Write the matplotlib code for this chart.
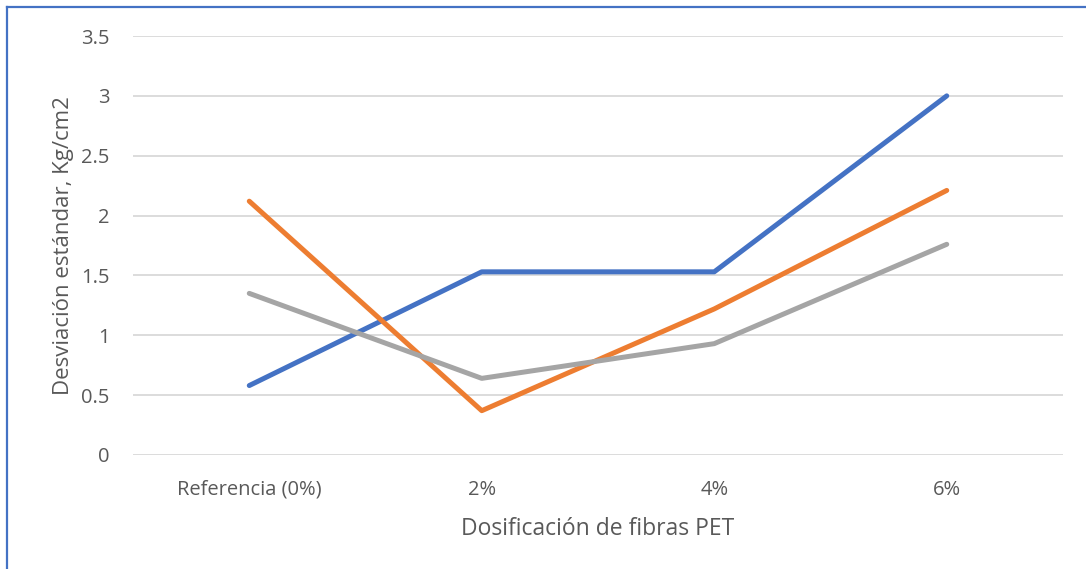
import matplotlib
matplotlib.use("Agg")
import matplotlib.pyplot as plt
from matplotlib.lines import Line2D

# Standard deviation of compressive strength by PET fibre dosage
categories = ["Referencia (0%)", "2%", "4%", "6%"]
serie_1 = [0.58, 1.53, 1.53, 3.00]
serie_2 = [2.12, 0.37, 1.22, 2.21]
serie_3 = [1.35, 0.64, 0.93, 1.76]
y_ticks = [0, 0.5, 1, 1.5, 2, 2.5, 3, 3.5]
y_tick_labels = ["0", "0.5", "1", "1.5", "2", "2.5", "3", "3.5"]

colors = ["#4472C4", "#ED7D31", "#A5A5A5"]
text_color = "#595959"

plt.rcParams["font.family"] = ["Open Sans", "DejaVu Sans"]

fig = plt.figure(figsize=(10.86, 5.69), dpi=100)
ax = fig.add_axes([0.1225, 0.2004, 0.8563, 0.7363])

x = list(range(len(categories)))
for values, c in zip([serie_1, serie_2, serie_3], colors):
    ax.plot(x, values, color=c, linewidth=3.6, solid_capstyle="round",
            solid_joinstyle="round", zorder=3)

ax.set_xlim(-0.5, len(categories) - 0.5)
ax.set_ylim(0, 3.5)
ax.set_yticks(y_ticks)
ax.set_yticklabels(y_tick_labels)
ax.set_xticks(x)
ax.set_xticklabels(categories)
ax.grid(axis="y", color="#D9D9D9", linewidth=1.3)
ax.set_axisbelow(True)
for s in ax.spines.values():
    s.set_visible(False)
ax.tick_params(axis="both", length=0, colors=text_color, labelsize=14.5)
ax.tick_params(axis="y", pad=17)
ax.tick_params(axis="x", pad=18)

ax.set_xlabel("Dosificación de fibras PET", color=text_color, fontsize=16.5, labelpad=12)
ax.set_ylabel("Desviación estándar, Kg/cm2", color=text_color, fontsize=16, labelpad=5)

# Chart frame edges (top and left)
fig.add_artist(Line2D([0.0062, 1.0], [0.9875, 0.9875], transform=fig.transFigure,
                      color="#4472C4", linewidth=1.6))
fig.add_artist(Line2D([0.0062, 0.0062], [0.0, 0.9875], transform=fig.transFigure,
                      color="#4472C4", linewidth=1.6))

fig.savefig("out.png", dpi=100)
